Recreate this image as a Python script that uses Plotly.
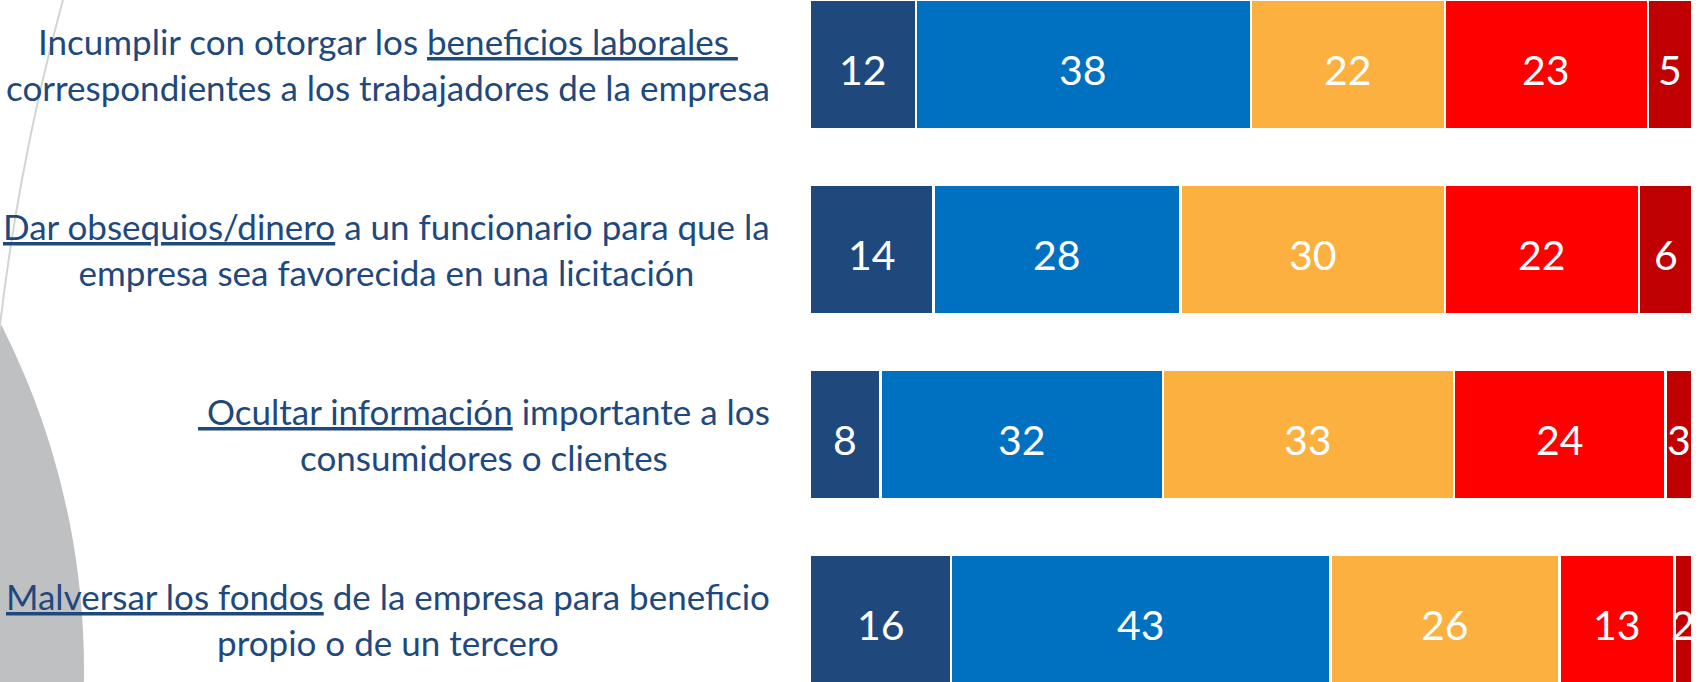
import numpy as np
import plotly.graph_objects as go

# Etiquetas de cada conducta (texto subrayado como en el original)
etiquetas = [
    "Incumplir con otorgar los <u>beneficios laborales </u><br>correspondientes a los trabajadores de la empresa",
    "<u>Dar obsequios/dinero</u> a un funcionario para que la<br>empresa sea favorecida en una licitación",
    "<u> Ocultar información</u> importante a los<br>consumidores o clientes",
    "<u>Malversar los fondos</u> de la empresa para beneficio<br>propio o de un tercero",
]

# porcentajes por segmento (de izquierda a derecha)
serie_1 = [12, 14, 8, 16]
serie_2 = [38, 28, 32, 43]
serie_3 = [22, 30, 33, 26]
serie_4 = [23, 22, 24, 13]
serie_5 = [5, 6, 3, 2]

series = [serie_1, serie_2, serie_3, serie_4, serie_5]
colores = ["#1F497D", "#0070C0", "#FBB040", "#FF0000", "#C00000"]

W, H = 1698, 682
L = 810

fig = go.Figure()

for vals, col in zip(series, colores):
    fig.add_trace(go.Bar(
        y=etiquetas,
        x=vals,
        orientation="h",
        marker=dict(color=col, line=dict(color="white", width=2.5)),
        textposition="none",
        hoverinfo="x",
    ))

# numeros centrados en cada segmento
acum = np.cumsum(np.array(series), axis=0)
medios = acum - np.array(series) / 2
for k in range(len(series)):
    for et, xm, v in zip(etiquetas, medios[k], series[k]):
        fig.add_annotation(
            x=xm, y=et, xref="x", yref="y",
            text=str(v), showarrow=False,
            xanchor="center", yanchor="middle", yshift=-5,
            font=dict(family="Lato", size=41, color="white"),
        )

# etiquetas a la izquierda
for et in etiquetas:
    fig.add_annotation(
        x=0, xref="paper", xshift=-38,
        y=et, yref="y",
        text=et, showarrow=False,
        xanchor="right", yanchor="middle", align="center",
        font=dict(family="Lato", size=35, color="#1F497D"),
    )


def px_x(p):
    return (p - L) / (W - L)


def px_y(p):
    return 1 - p / H


# decoracion de fondo: circulo gris y arco fino
fig.add_shape(
    type="circle", xref="paper", yref="paper", layer="below",
    x0=px_x(-1440), x1=px_x(84), y0=px_y(1432), y1=px_y(-92),
    fillcolor="#BFC0C2", line=dict(width=0),
)
fig.add_shape(
    type="circle", xref="paper", yref="paper", layer="below",
    x0=px_x(-15), x1=px_x(4425), y0=px_y(2803), y1=px_y(-1637),
    fillcolor="rgba(0,0,0,0)", line=dict(color="#D4D4D4", width=2),
)

fig.update_layout(
    width=W, height=H,
    barmode="stack",
    bargap=0.30,
    showlegend=False,
    margin=dict(l=L, r=0, t=0, b=0),
    paper_bgcolor="white",
    plot_bgcolor="rgba(0,0,0,0)",
    xaxis=dict(range=[0, 100.68], visible=False, fixedrange=True),
    yaxis=dict(range=[3.338, -0.3486], visible=False, fixedrange=True),
)

fig.write_html("out.html", config={"displayModeBar": False},
               post_script="document.body.style.margin='0';")
